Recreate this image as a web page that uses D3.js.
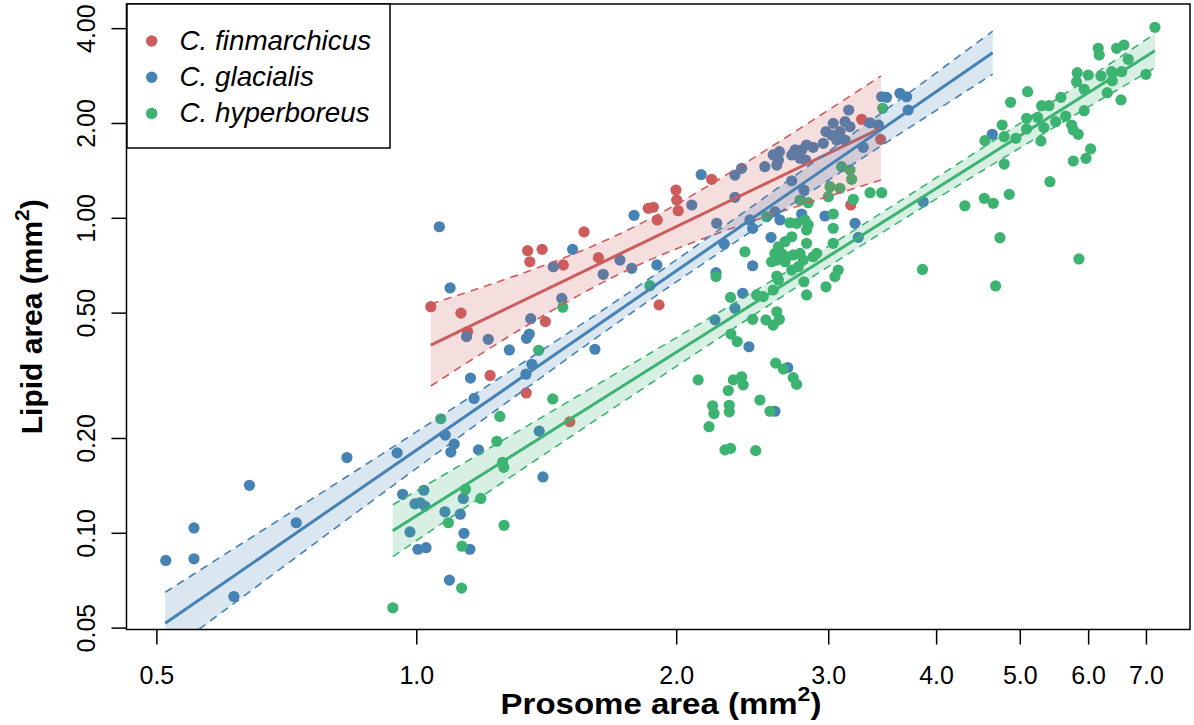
<!DOCTYPE html>
<html><head><meta charset="utf-8">
<script src="https://cdn.jsdelivr.net/npm/d3@7"></script>
<style>body{margin:0;background:#fff}svg{display:block}text{font-family:"Liberation Sans",Arial,Helvetica,sans-serif;fill:#000}</style>
</head><body><svg id="c" width="1194" height="725"></svg>
<script>
const seriesNames = ["C. finmarchicus","C. glacialis","C. hyperboreus"];
const seriesColors = ["#CD5C5C","#4682B4","#3CB371"];
const xTickValues = [0.5,1,2,3,4,5,6,7];
const xTickLabels = ["0.5","1.0","2.0","3.0","4.0","5.0","6.0","7.0"];
const yTickValues = [0.05,0.1,0.2,0.5,1,2,4];
const yTickLabels = ["0.05","0.10","0.20","0.50","1.00","2.00","4.00"];

const finX = [1.038,1.125,1.145,1.216,1.339,1.409,1.344,1.352,1.397,1.478,1.562,1.623,1.504,1.908,1.854,1.879,1.899,1.996,2.000,2.008,2.195,3.275,3.445,3.181];
const finY = [0.524,0.500,0.437,0.317,0.279,0.470,0.789,0.728,0.797,0.711,0.905,0.750,0.226,0.531,1.076,1.084,0.988,1.230,1.143,1.057,1.330,2.062,1.781,1.102];

const glaX = [0.512,0.552,0.552,0.640,0.830,0.949,0.725,0.614,0.963,0.982,
1.003,1.025,0.995,1.009,1.022,1.019,1.078,1.132,1.123,1.134,
1.152,1.091,1.079,1.105,1.095,1.179,1.386,1.400,1.165,1.154,
1.338,1.359,1.280,1.350,1.340,1.608,1.142,1.210,1.355,1.472,
1.093,1.062,1.439,1.644,1.719,1.774,1.897,1.515,1.785,2.082,
2.135,2.225,2.336,2.378,2.336,2.431,2.449,2.599,2.634,2.791,
2.970,3.218,2.572,3.246,2.270,2.449,2.221,2.385,2.336,2.215,
2.425,2.689,2.599,2.718,2.808,2.587,2.630,2.623,2.530,2.612,
2.828,2.878,2.791,2.742,2.718,2.779,2.821,2.978,3.023,2.957,
3.091,3.133,3.064,3.036,3.133,3.175,3.164,3.349,3.424,3.289,
3.455,3.501,3.627,3.692,3.708,4.640,3.860];
const glaY = [0.082,0.104,0.083,0.142,0.174,0.180,0.108,0.063,0.133,0.101,
0.089,0.090,0.124,0.125,0.122,0.137,0.117,0.129,0.115,0.100,
0.089,0.071,0.205,0.192,0.181,0.184,0.211,0.151,0.268,0.311,
0.320,0.344,0.382,0.429,0.416,0.384,0.421,0.413,0.480,0.557,
0.601,0.940,0.702,0.664,0.737,0.694,0.711,0.797,1.022,1.102,
1.376,0.964,1.166,1.441,1.372,0.988,0.929,1.049,0.988,1.032,
1.017,0.964,0.870,0.870,0.829,0.707,0.672,0.578,0.518,0.476,
0.391,0.336,0.244,1.316,1.230,1.589,1.627,1.531,1.458,1.476,
1.709,1.680,1.648,1.648,1.589,1.550,1.531,1.884,1.838,1.730,
1.884,1.772,1.772,2.002,2.026,1.953,2.207,2.011,1.978,1.680,
2.432,2.421,2.494,2.432,2.207,1.848,1.129];

const hypX = [0.938,1.066,1.248,1.437,1.238,1.257,1.261,1.139,1.186,1.088,
1.262,1.128,1.127,1.384,1.476,1.862,2.118,3.464,3.105,3.175,
3.189,3.010,3.091,2.997,2.779,2.840,3.203,3.349,3.455,2.542,
3.036,2.705,2.754,2.816,2.840,2.828,3.036,2.718,2.670,2.623,
2.599,2.646,2.682,2.729,2.779,2.803,2.766,2.718,2.670,2.612,
2.576,2.828,2.905,2.878,3.036,2.399,2.221,3.077,3.050,2.612,
2.623,2.808,2.978,2.309,2.475,2.519,2.587,2.828,2.449,2.537,
2.612,2.630,2.587,2.311,2.350,2.604,2.658,2.729,2.754,2.326,
2.378,2.388,2.295,2.497,2.201,2.209,2.301,2.301,2.565,2.180,
2.275,2.309,2.469,3.852,7.160,6.155,6.172,6.465,6.592,6.668,
6.990,5.820,5.994,5.810,6.200,6.380,6.552,6.390,5.929,6.305,
6.540,5.099,4.873,5.572,5.293,5.397,5.929,5.085,5.236,5.643,
5.495,4.764,5.085,5.325,5.734,5.759,5.836,4.550,4.790,4.942,
5.283,6.031,5.957,5.759,4.790,5.412,4.313,4.542,4.652,4.855,
4.736,5.847,4.682];
const hypY = [0.058,0.231,0.235,0.267,0.196,0.168,0.162,0.138,0.129,0.108,
0.106,0.091,0.067,0.381,0.522,0.611,0.307,2.235,1.458,1.423,
1.330,1.260,1.245,1.171,1.143,1.121,1.149,1.206,1.206,1.012,
1.032,0.968,0.964,0.988,0.952,0.918,0.930,0.874,0.843,0.812,
0.774,0.774,0.755,0.765,0.774,0.737,0.702,0.685,0.728,0.737,
0.728,0.833,0.774,0.755,0.833,0.783,0.653,0.685,0.653,0.656,
0.637,0.629,0.606,0.561,0.571,0.564,0.592,0.571,0.478,0.476,
0.505,0.478,0.458,0.429,0.406,0.347,0.332,0.312,0.297,0.307,
0.314,0.296,0.284,0.265,0.254,0.240,0.255,0.243,0.244,0.218,
0.184,0.186,0.183,0.688,4.040,3.465,3.299,3.465,3.549,3.197,
2.865,2.899,2.851,2.715,2.830,2.920,2.920,2.734,2.568,2.505,
2.375,2.523,2.335,2.421,2.278,2.278,2.196,2.077,2.092,2.112,
2.026,1.978,1.921,1.940,1.978,1.907,1.848,1.764,1.816,1.795,
1.760,1.660,1.550,1.520,1.487,1.307,1.096,1.157,1.116,1.192,
0.868,0.743,0.610];

// fitted lines (end points) and confidence bands
const finFitX = [1.038,3.448], finFitY = [0.396,1.934];
const glaFitX = [0.5113,4.645], glaFitY = [0.0518,3.355];
const hypFitX = [0.938,7.16],  hypFitY = [0.1019,3.405];
const finBandX  = [1.038,1.3,1.7,2.2,2.8,3.448];
const finBandLo = [0.2935,0.4337,0.6568,0.8838,1.105,1.323];
const finBandHi = [0.5344,0.6565,0.880,1.292,1.955,2.829];
const glaBandX  = [0.5113,0.7,1.0,1.5,2.0,3.0,4.645];
const glaBandLo = [0.0413,0.0782,0.1611,0.3614,0.6295,1.323,2.868];
const glaBandHi = [0.0650,0.1124,0.2102,0.4337,0.7394,1.631,3.926];
const hypBandX  = [0.938,1.5,2.5,3.42,5.0,7.16];
const hypBandLo = [0.0843,0.2008,0.5085,0.884,1.676,3.007];
const hypBandHi = [0.1232,0.2623,0.6026,1.023,2.005,3.855];

const L = 126.5, R = 1190, T = 4, B = 629.5;
const x = d3.scaleLog().domain([0.4611, 7.862]).range([L, R]);
const y = d3.scaleLog().domain([0.0495, 4.79]).range([B, T]);

const svg = d3.select("#c");
svg.append("defs").append("clipPath").attr("id","clip")
  .append("rect").attr("x",L).attr("y",T).attr("width",R-L).attr("height",B-T);

const series = [
  {pts: d3.zip(finX,finY), fit: d3.zip(finFitX,finFitY), band: finBandX.map((v,i)=>({x:v,lo:finBandLo[i],hi:finBandHi[i]}))},
  {pts: d3.zip(glaX,glaY), fit: d3.zip(glaFitX,glaFitY), band: glaBandX.map((v,i)=>({x:v,lo:glaBandLo[i],hi:glaBandHi[i]}))},
  {pts: d3.zip(hypX,hypY), fit: d3.zip(hypFitX,hypFitY), band: hypBandX.map((v,i)=>({x:v,lo:hypBandLo[i],hi:hypBandHi[i]}))}
];

const plot = svg.append("g").attr("clip-path","url(#clip)");
// points
series.forEach((s,i)=>{
  plot.append("g").selectAll("circle").data(s.pts).join("circle")
    .attr("cx",d=>x(d[0])).attr("cy",d=>y(d[1])).attr("r",5.6)
    .attr("fill",seriesColors[i]);
});
// bands and lines
const area = d3.area().x(d=>x(d.x)).y0(d=>y(d.lo)).y1(d=>y(d.hi)).curve(d3.curveNatural);
const lineLo = d3.line().x(d=>x(d.x)).y(d=>y(d.lo)).curve(d3.curveNatural);
const lineHi = d3.line().x(d=>x(d.x)).y(d=>y(d.hi)).curve(d3.curveNatural);
const fitLine = d3.line().x(d=>x(d[0])).y(d=>y(d[1]));
series.forEach((s,i)=>{
  const c = seriesColors[i];
  plot.append("path").attr("d",area(s.band)).attr("fill",c).attr("fill-opacity",0.2);
  plot.append("path").attr("d",lineLo(s.band)).attr("fill","none").attr("stroke",c).attr("stroke-width",1.6).attr("stroke-dasharray","8,6");
  plot.append("path").attr("d",lineHi(s.band)).attr("fill","none").attr("stroke",c).attr("stroke-width",1.6).attr("stroke-dasharray","8,6");
  plot.append("path").attr("d",fitLine(s.fit)).attr("fill","none").attr("stroke",c).attr("stroke-width",3);
});

// frame
svg.append("rect").attr("x",L).attr("y",T).attr("width",R-L).attr("height",B-T)
  .attr("fill","none").attr("stroke","#000").attr("stroke-width",1.5);

// x axis
const xa = svg.append("g");
xTickValues.forEach((v,i)=>{
  xa.append("line").attr("x1",x(v)).attr("x2",x(v)).attr("y1",B).attr("y2",B+15).attr("stroke","#000").attr("stroke-width",1.5);
  xa.append("text").attr("x",x(v)).attr("y",684).attr("text-anchor","middle").attr("font-size",25).text(xTickLabels[i]);
});
// y axis
const ya = svg.append("g");
yTickValues.forEach((v,i)=>{
  ya.append("line").attr("x1",L-15).attr("x2",L).attr("y1",y(v)).attr("y2",y(v)).attr("stroke","#000").attr("stroke-width",1.5);
  ya.append("text").attr("transform",`translate(95,${y(v)}) rotate(-90)`).attr("text-anchor","middle").attr("font-size",25).text(yTickLabels[i]);
});

// axis titles
const xt = svg.append("text").attr("transform","translate(661,714) scale(1.1,1)").attr("text-anchor","middle")
  .attr("font-size",30).attr("font-weight","bold");
xt.append("tspan").text("Prosome area (mm");
xt.append("tspan").attr("dy",-13).attr("font-size",21).text("2");
xt.append("tspan").attr("dy",13).text(")");

const yt = svg.append("text").attr("transform",`translate(42,${(T+B)/2}) rotate(-90)`).attr("text-anchor","middle")
  .attr("font-size",30).attr("font-weight","bold");
yt.append("tspan").text("Lipid area (mm");
yt.append("tspan").attr("dy",-13).attr("font-size",21).text("2");
yt.append("tspan").attr("dy",13).text(")");

// legend
const lg = svg.append("g");
lg.append("rect").attr("x",127).attr("y",4).attr("width",263).attr("height",144)
  .attr("fill","#fff").attr("stroke","#000").attr("stroke-width",1.5);
seriesNames.forEach((n,i)=>{
  const cy = 41 + i*36.2;
  lg.append("circle").attr("cx",151.7).attr("cy",cy).attr("r",5.7).attr("fill",seriesColors[i]);
  lg.append("text").attr("x",179.5).attr("y",cy+9).attr("font-size",27.8).attr("font-style","italic").text(n);
});
</script></body></html>
